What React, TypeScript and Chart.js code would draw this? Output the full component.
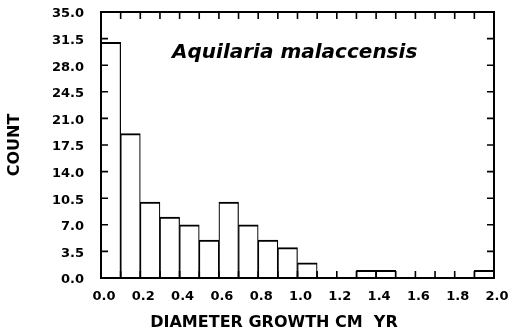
import React, { useEffect, useRef } from "react";
import { Chart, registerables } from "chart.js";

Chart.register(...registerables);

// Histogram bins (left edge, width 0.1) and counts
const binStarts = [0.0, 0.1, 0.2, 0.3, 0.4, 0.5, 0.6, 0.7, 0.8, 0.9, 1.0, 1.1, 1.2, 1.3, 1.4, 1.5, 1.6, 1.7, 1.8, 1.9];
const counts = [31, 19, 10, 8, 7, 5, 10, 7, 5, 4, 2, 0, 0, 1, 1, 0, 0, 0, 0, 1];
const binWidth = 0.1;

const xTitle = "DIAMETER GROWTH CM  YR";
const yTitle = "COUNT";
const annotation = "Aquilaria malaccensis";

const FONT = "'DejaVu Sans', sans-serif";
const INK = "#000";

const framePlugin = {
  id: "frameTicks",
  afterDatasetsDraw(chart: any) {
    const { ctx, chartArea, scales } = chart;
    const { left, right, top, bottom } = chartArea;
    const tl = 7;
    ctx.save();
    ctx.strokeStyle = INK;
    ctx.lineWidth = 2;
    ctx.strokeRect(left, top, right - left, bottom - top);
    ctx.lineWidth = 1.6;
    ctx.beginPath();
    scales.x.ticks.forEach((t: any) => {
      const px = scales.x.getPixelForValue(t.value);
      ctx.moveTo(px, bottom);
      ctx.lineTo(px, bottom - tl);
      ctx.moveTo(px, top);
      ctx.lineTo(px, top + tl);
    });
    scales.y.ticks.forEach((t: any) => {
      const py = scales.y.getPixelForValue(t.value);
      ctx.moveTo(left, py);
      ctx.lineTo(left + tl, py);
      ctx.moveTo(right, py);
      ctx.lineTo(right - tl, py);
    });
    ctx.stroke();

    ctx.fillStyle = INK;
    // annotation
    ctx.font = `italic bold 20px ${FONT}`;
    ctx.textAlign = "left";
    ctx.textBaseline = "alphabetic";
    ctx.fillText(annotation, left + 71, top + 46);
    // x title
    ctx.font = `bold 16px ${FONT}`;
    ctx.textAlign = "center";
    ctx.textBaseline = "middle";
    ctx.fillText(xTitle, left + 173, bottom + 45);
    // y title
    ctx.translate(15, (top + bottom) / 2);
    ctx.rotate(-Math.PI / 2);
    ctx.fillText(yTitle, 0, 0);
    ctx.restore();
  },
};

const zeroPad = (s: any) => {
  s.paddingTop = 0;
  s.paddingBottom = 0;
  s.paddingLeft = 0;
  s.paddingRight = 0;
};

export default function App() {
  const ref = useRef<HTMLCanvasElement | null>(null);
  useEffect(() => {
    document.body.style.margin = "0";
    const canvas = ref.current;
    if (!canvas) return;
    const data = binStarts.map((s, i) => ({ x: s + binWidth / 2, y: counts[i] }));
    const chart = new Chart(canvas, {
      type: "bar",
      data: {
        datasets: [
          {
            data: data as any,
            backgroundColor: "#ffffff",
            borderColor: INK,
            borderWidth: { top: 2, left: 1.2, right: 1.2, bottom: 0 } as any,
            borderSkipped: false as any,
            barPercentage: 1,
            categoryPercentage: 1,
          },
        ],
      },
      options: {
        responsive: false,
        animation: false,
        layout: { padding: { top: 12, right: 17, left: 0, bottom: 0 } },
        plugins: { legend: { display: false }, tooltip: { enabled: false } },
        scales: {
          x: {
            type: "linear",
            min: 0,
            max: 2,
            offset: false,
            grid: { display: false, drawTicks: false },
            border: { display: false },
            ticks: {
              stepSize: 0.1,
              autoSkip: false,
              maxRotation: 0,
              padding: 11,
              labelOffset: 3,
              color: INK,
              font: { family: FONT, size: 13, weight: "bold" },
              callback: (v: any) => {
                const n = Math.round(Number(v) * 10);
                return n % 2 === 0 ? (n / 10).toFixed(1) : "";
              },
            },
            afterFit: (s: any) => {
              s.height = 57;
              zeroPad(s);
            },
          },
          y: {
            min: 0,
            max: 35,
            grid: { display: false, drawTicks: false },
            border: { display: false },
            ticks: {
              stepSize: 3.5,
              padding: 17,
              labelOffset: 2,
              color: INK,
              font: { family: FONT, size: 13, weight: "bold" },
              callback: (v: any) => Number(v).toFixed(1),
            },
            afterFit: (s: any) => {
              s.width = 101;
              zeroPad(s);
            },
          },
        },
      },
      plugins: [framePlugin],
    });
    return () => chart.destroy();
  }, []);
  return (
    <div style={{ position: "absolute", left: 0, top: 0, width: 511, height: 335, background: "#fff" }}>
      <canvas ref={ref} width={511} height={335} />
    </div>
  );
}
